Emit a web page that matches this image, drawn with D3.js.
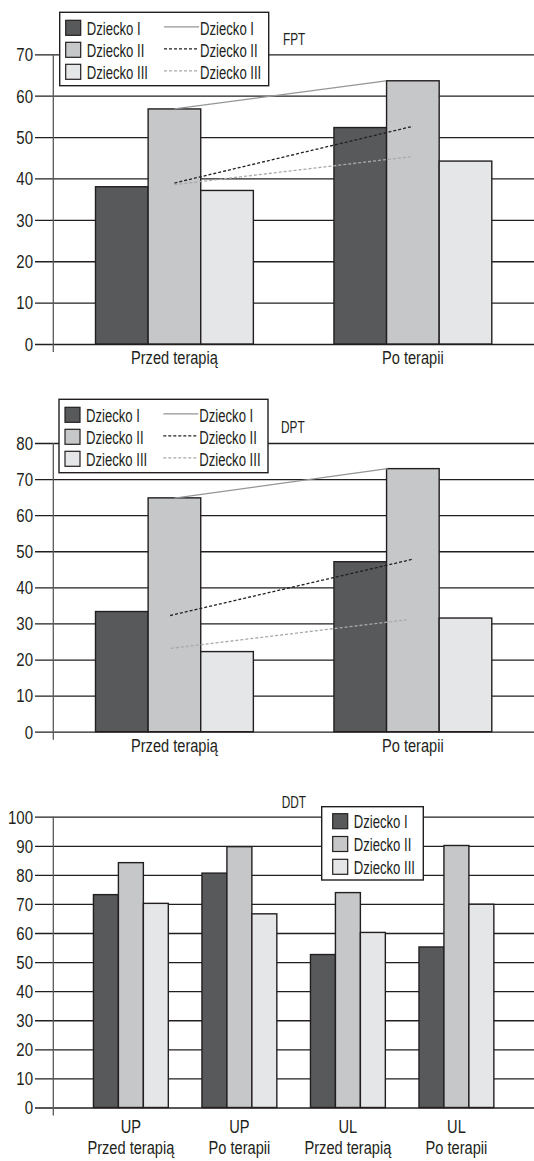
<!DOCTYPE html>
<html>
<head>
<meta charset="utf-8">
<script src="https://cdn.jsdelivr.net/npm/d3@7"></script>
<style>
  html, body { margin: 0; padding: 0; background: #fff; }
  svg { display: block; }
  text { font-family: "Liberation Sans", Arial, sans-serif; fill: #231f20; }
</style>
</head>
<body>
<svg id="chart" width="534" height="1161"></svg>
<script>
// ---------- DATA ----------
const seriesNames = ["Dziecko I", "Dziecko II", "Dziecko III"];

// FPT
const fptCategories = ["Przed terapią", "Po terapii"];
const fptDzieckoI   = [38.0, 52.3];
const fptDzieckoII  = [56.8, 63.6];
const fptDzieckoIII = [37.1, 44.2];
// trend lines (position in category index space, value)
const fptLineIPos   = [0, 0.888];
const fptLineIVal   = [56.8, 63.6];
const fptLineIIPos  = [0, 1];
const fptLineIIVal  = [38.9, 52.6];
const fptLineIIIPos = [0, 0.997];
const fptLineIIIVal = [38.5, 45.3];
const fptTicks = [0, 10, 20, 30, 40, 50, 60, 70];

// DPT
const dptCategories = ["Przed terapią", "Po terapii"];
const dptDzieckoI   = [33.3, 47.1];
const dptDzieckoII  = [64.8, 72.9];
const dptDzieckoIII = [22.2, 31.5];
const dptLineIPos   = [0, 0.894];
const dptLineIVal   = [64.7, 72.9];
const dptLineIIPos  = [-0.018, 1];
const dptLineIIVal  = [32.2, 47.8];
const dptLineIIIPos = [-0.015, 0.973];
const dptLineIIIVal = [23.1, 31.0];
const dptTicks = [0, 10, 20, 30, 40, 50, 60, 70, 80];

// DDT
const ddtCategories = ["UP\nPrzed terapią", "UP\nPo terapii", "UL\nPrzed terapią", "UL\nPo terapii"];
const ddtDzieckoI   = [73.2, 80.6, 52.6, 55.2];
const ddtDzieckoII  = [84.2, 89.7, 73.9, 90.1];
const ddtDzieckoIII = [70.2, 66.6, 60.2, 69.9];
const ddtTicks = [0, 10, 20, 30, 40, 50, 60, 70, 80, 90, 100];

// ---------- STYLE ----------
const fills = ["#58595b", "#c6c7c9", "#e5e6e7"];
const ink = "#231f20";
const lineStyles = [
  { stroke: "#939598", dash: null, width: 1.3 },
  { stroke: "#231f20", dash: "3,2", width: 1.3 },
  { stroke: "#a7a9ac", dash: "3,2", width: 1.3 }
];

const svg = d3.select("#chart");

function drawChart(cfg) {
  const g = svg.append("g");
  const axisX = 53.3, right = 534, gridStart = 35;
  const y = d3.scaleLinear().domain(cfg.domain).range([cfg.y0, cfg.yTop]);
  const x = d3.scaleBand().domain(cfg.categories).range([axisX, right])
    .paddingInner(cfg.padInner).paddingOuter(cfg.padOuter);
  const xs = d3.scaleBand().domain(seriesNames).range([0, x.bandwidth()]);

  // gridlines
  const grid = g.append("g").attr("transform", `translate(${gridStart},0)`)
    .call(d3.axisRight(y).tickValues(cfg.ticks).tickSize(right - gridStart).tickFormat(""));
  grid.select(".domain").remove();
  grid.selectAll("line").attr("stroke", ink).attr("stroke-width", 1.3);

  // y labels
  const ya = g.append("g").attr("transform", `translate(${axisX},0)`)
    .call(d3.axisLeft(y).tickValues(cfg.ticks).tickSize(0).tickPadding(20.3));
  ya.select(".domain").remove();
  ya.selectAll("text").attr("class", "ytick").attr("font-size", 17.7).attr("fill", ink)
    .attr("font-family", null).attr("dy", "0.36em");

  // vertical axis line
  g.append("line").attr("x1", axisX).attr("x2", axisX)
    .attr("y1", y(cfg.domain[1])).attr("y2", y(0) + 8)
    .attr("stroke", "#58595b").attr("stroke-width", 1.3);

  // bars
  const rows = cfg.categories.map((c, i) => ({ c, vals: cfg.series.map(s => s[i]) }));
  const grp = g.append("g").selectAll("g").data(rows).join("g")
    .attr("transform", d => `translate(${x(d.c)},0)`);
  grp.selectAll("rect").data(d => d.vals.map((v, k) => ({ v, k })))
    .join("rect")
    .attr("x", d => xs(seriesNames[d.k]))
    .attr("y", d => y(d.v))
    .attr("width", xs.bandwidth())
    .attr("height", d => y(0) - y(d.v))
    .attr("fill", d => fills[d.k])
    .attr("stroke", ink).attr("stroke-width", 1.4);

  // trend lines
  if (cfg.lines) {
    const c0 = x(cfg.categories[0]) + x.bandwidth() / 2;
    const c1 = x(cfg.categories[1]) + x.bandwidth() / 2;
    const px = d3.scaleLinear().domain([0, 1]).range([c0, c1]);
    const lineGen = d3.line().x(d => px(d[0])).y(d => y(d[1]));
    cfg.lines.forEach((ln, k) => {
      const pts = ln.pos.map((p, i) => [p, ln.val[i]]);
      g.append("path").attr("d", lineGen(pts)).attr("fill", "none")
        .attr("stroke", lineStyles[k].stroke)
        .attr("stroke-width", lineStyles[k].width)
        .attr("stroke-dasharray", lineStyles[k].dash);
    });
  }

  // x labels
  const xa = g.append("g").attr("transform", `translate(0,${y(0)})`)
    .call(d3.axisBottom(x).tickSize(0).tickPadding(0));
  xa.select(".domain").remove();
  xa.selectAll("text").attr("class", "xlab").attr("font-size", 18.5).attr("font-family", null).attr("fill", ink)
    .attr("dy", null)
    .each(function (d) {
      const parts = d.split("\n");
      const t = d3.select(this).text(null).attr("y", 0);
      parts.forEach((p, i) => {
        t.append("tspan").attr("x", 0).attr("y", cfg.labelY + i * 21).text(p);
      });
    });

  // title
  g.append("text").attr("class", "title").attr("x", cfg.title.x).attr("y", cfg.title.y)
    .attr("font-size", 16.2).text(cfg.title.text);

  // legend
  const L = cfg.legend;
  const lg = g.append("g").attr("transform", `translate(${L.x},${L.y})`);
  lg.append("rect").attr("width", L.w).attr("height", L.h)
    .attr("fill", "#fff").attr("stroke", ink).attr("stroke-width", 1.4);
  seriesNames.forEach((name, i) => {
    const cy = L.row0 + i * L.rowStep;
    lg.append("rect").attr("x", L.swX).attr("y", cy - 7.5).attr("width", 15).attr("height", 15)
      .attr("fill", fills[i]).attr("stroke", ink).attr("stroke-width", 1.2);
    lg.append("text").attr("class", "leg").attr("x", L.swX + 21).attr("y", cy + 6.8)
      .attr("font-size", 18.5).text(name);
    if (L.lines) {
      lg.append("line").attr("x1", 104.3).attr("x2", 139.3).attr("y1", cy - 1).attr("y2", cy - 1)
        .attr("stroke", lineStyles[i].stroke).attr("stroke-width", lineStyles[i].width)
        .attr("stroke-dasharray", lineStyles[i].dash);
      lg.append("text").attr("class", "leg").attr("x", 140.3).attr("y", cy + 6.8)
        .attr("font-size", 18.5).text(name);
    }
  });
}

// horizontally condense text (emulates a condensed typeface)
function condense(sel, sx) {
  sel.each(function () {
    const t = d3.select(this);
    const x0 = +t.attr("x") || 0;
    t.attr("x", x0 / sx).attr("transform", `scale(${sx},1)`);
    t.selectAll("tspan").each(function () {
      const s = d3.select(this);
      if (s.attr("x") != null) s.attr("x", +s.attr("x") / sx);
    });
  });
}

drawChart({
  categories: fptCategories,
  series: [fptDzieckoI, fptDzieckoII, fptDzieckoIII],
  lines: [
    { pos: fptLineIPos, val: fptLineIVal },
    { pos: fptLineIIPos, val: fptLineIIVal },
    { pos: fptLineIIIPos, val: fptLineIIIVal }
  ],
  domain: [0, 70], ticks: fptTicks, y0: 344, yTop: 54.3,
  padInner: 0.338, padOuter: 0.177, labelY: 20.5,
  title: { text: "FPT", x: 283, y: 45 },
  legend: { x: 59.7, y: 12.3, w: 209, h: 73.4, swX: 6, row0: 15.5, rowStep: 22, lines: true }
});

drawChart({
  categories: dptCategories,
  series: [dptDzieckoI, dptDzieckoII, dptDzieckoIII],
  lines: [
    { pos: dptLineIPos, val: dptLineIVal },
    { pos: dptLineIIPos, val: dptLineIIVal },
    { pos: dptLineIIIPos, val: dptLineIIIVal }
  ],
  domain: [0, 80], ticks: dptTicks, y0: 731.7, yTop: 443,
  padInner: 0.338, padOuter: 0.177, labelY: 20.5,
  title: { text: "DPT", x: 281, y: 433.3 },
  legend: { x: 59, y: 399.3, w: 209, h: 73.4, swX: 6, row0: 15.5, rowStep: 22, lines: true }
});

drawChart({
  categories: ddtCategories,
  series: [ddtDzieckoI, ddtDzieckoII, ddtDzieckoIII],
  lines: null,
  domain: [0, 100], ticks: ddtTicks, y0: 1107.5, yTop: 816.7,
  padInner: 0.31, padOuter: 0.37, labelY: 26,
  title: { text: "DDT", x: 281.7, y: 808.3 },
  legend: { x: 321.7, y: 806.7, w: 101.6, h: 73.3, swX: 11, row0: 14.5, rowStep: 22.8, lines: false }
});

condense(svg.selectAll("text.ytick"), 0.85);
condense(svg.selectAll("text.leg"), 0.71);
condense(svg.selectAll("text.xlab"), 0.79);
condense(svg.selectAll("text.title"), 0.73);
</script>
</body>
</html>
